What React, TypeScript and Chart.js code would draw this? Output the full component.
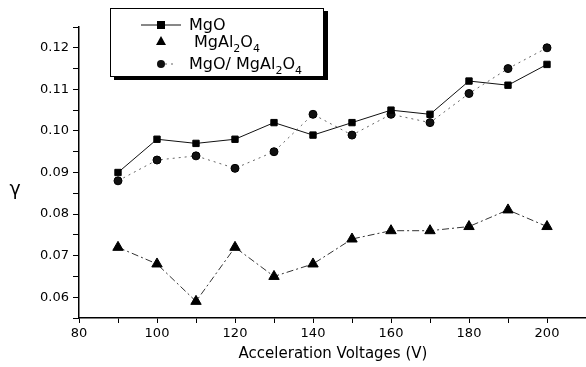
import React, { useEffect, useRef } from 'react';
import { Chart, registerables } from 'chart.js';

Chart.register(...registerables);

const voltages = [90, 100, 110, 120, 130, 140, 150, 160, 170, 180, 190, 200];
const mgoValues = [0.090, 0.098, 0.097, 0.098, 0.102, 0.099, 0.102, 0.105, 0.104, 0.112, 0.111, 0.116];
const spinelValues = [0.072, 0.068, 0.059, 0.072, 0.065, 0.068, 0.074, 0.076, 0.076, 0.077, 0.081, 0.077];
const compositeValues = [0.088, 0.093, 0.094, 0.091, 0.095, 0.104, 0.099, 0.104, 0.102, 0.109, 0.115, 0.120];
const xLabels = [80, 100, 120, 140, 160, 180, 200];
const yLabels = ['0.06', '0.07', '0.08', '0.09', '0.10', '0.11', '0.12'];
const xTitle = 'Acceleration Voltages (V)';
const yTitle = 'γ';

const FONT = '"DejaVu Sans", "Liberation Sans", Arial, sans-serif';

export default function App() {
  const ref = useRef<HTMLCanvasElement>(null);

  useEffect(() => {
    document.body.style.margin = '0';
    const canvas = ref.current;
    if (!canvas) return;
    const pts = (ys: number[]) => voltages.map((x, i) => ({ x, y: ys[i] }));

    const titles = {
      id: 'axisTitles',
      afterDraw(c: any) {
        const g = c.ctx;
        g.save();
        g.fillStyle = '#000';
        g.textAlign = 'center';
        g.textBaseline = 'middle';
        g.font = `15px ${FONT}`;
        g.fillText(xTitle, 333, 354);
        g.font = `19px ${FONT}`;
        g.fillText(yTitle, 15, 190);
        g.restore();
      },
    };

    const chart = new Chart(canvas, {
      type: 'scatter',
      data: {
        datasets: [
          {
            label: 'MgO',
            data: pts(mgoValues),
            showLine: true,
            borderColor: '#111',
            borderWidth: 1,
            pointStyle: 'rect',
            pointRadius: 4.5,
            pointBackgroundColor: '#000',
            pointBorderColor: '#000',
          },
          {
            label: 'MgAl2O4',
            data: pts(spinelValues),
            showLine: true,
            borderColor: '#333',
            borderWidth: 1,
            borderDash: [7, 3, 2, 3],
            pointStyle: 'triangle',
            pointRadius: 6,
            pointBackgroundColor: '#000',
            pointBorderColor: '#000',
          },
          {
            label: 'MgO/ MgAl2O4',
            data: pts(compositeValues),
            showLine: true,
            borderColor: '#666',
            borderWidth: 1,
            borderDash: [2, 4],
            pointStyle: 'circle',
            pointRadius: 4,
            pointBackgroundColor: '#111',
            pointBorderColor: '#000',
          },
        ],
      },
      options: {
        responsive: false,
        animation: false,
        devicePixelRatio: 1,
        layout: { autoPadding: false, padding: { top: 27, right: 0, left: 0, bottom: 0 } },
        plugins: { legend: { display: false }, tooltip: { enabled: false } },
        scales: {
          x: {
            type: 'linear',
            min: 80,
            max: 210,
            ticks: {
              stepSize: 10,
              autoSkip: false,
              maxRotation: 0,
              padding: 3,
              color: '#000',
              font: { family: FONT, size: 13 },
              callback: (v: any) => (xLabels.includes(Number(v)) ? String(v) : ''),
            },
            grid: { drawOnChartArea: false, tickLength: 5, color: '#000', tickWidth: 1 },
            border: { display: true, color: '#000', width: 1.5 },
            afterFit: (s: any) => {
              s.height = 49;
              s.paddingRight = 0;
              s.paddingLeft = 0;
            },
          },
          y: {
            type: 'linear',
            min: 0.055,
            max: 0.125,
            ticks: {
              stepSize: 0.005,
              autoSkip: false,
              padding: 4,
              color: '#000',
              font: { family: FONT, size: 13 },
              callback: (v: any) => {
                const s = (Math.round(Number(v) * 1000) / 1000).toFixed(2);
                const r = Math.round(Number(v) * 1000);
                return r % 10 === 0 && yLabels.includes(s) ? s : '';
              },
            },
            grid: { drawOnChartArea: false, tickLength: 6, color: '#000', tickWidth: 1 },
            border: { display: true, color: '#000', width: 1.5 },
            afterFit: (s: any) => {
              s.width = 79;
              s.paddingTop = 0;
              s.paddingBottom = 0;
            },
          },
        },
      },
      plugins: [titles],
    } as any);

    return () => chart.destroy();
  }, []);

  const sub = (t: string) => (
    <span style={{ fontSize: 11, position: 'relative', top: 5 }}>{t}</span>
  );

  return (
    <div style={{ position: 'relative', width: 586, height: 367, background: '#fff' }}>
      <canvas ref={ref} width={586} height={367} style={{ display: 'block' }} />
      <div
        style={{
          position: 'absolute',
          left: 110,
          top: 8,
          width: 212,
          height: 67,
          border: '1px solid #000',
          boxShadow: '4px 3px 0 #000',
          background: '#fff',
          fontFamily: FONT,
          fontSize: 16,
          color: '#000',
        }}
      >
        <svg width={80} height={67} style={{ position: 'absolute', left: 0, top: 0 }}>
          <line x1={30} y1={16} x2={70} y2={16} stroke="#111" strokeWidth={1} />
          <rect x={46} y={12} width={8} height={8} fill="#000" />
          <polygon points="50,27 55,36 45,36" fill="#000" />
          <line x1={54} y1={55} x2={66} y2={55} stroke="#666" strokeWidth={1} strokeDasharray="2 4" />
          <circle cx={50} cy={55} r={4} fill="#111" />
        </svg>
        <span style={{ position: 'absolute', left: 78, top: 6, lineHeight: '20px', whiteSpace: 'nowrap' }}>MgO</span>
        <span style={{ position: 'absolute', left: 83, top: 23, lineHeight: '20px', whiteSpace: 'nowrap' }}>
          MgAl{sub('2')}O{sub('4')}
        </span>
        <span style={{ position: 'absolute', left: 78, top: 45, lineHeight: '20px', whiteSpace: 'nowrap' }}>
          MgO/ MgAl{sub('2')}O{sub('4')}
        </span>
      </div>
    </div>
  );
}
